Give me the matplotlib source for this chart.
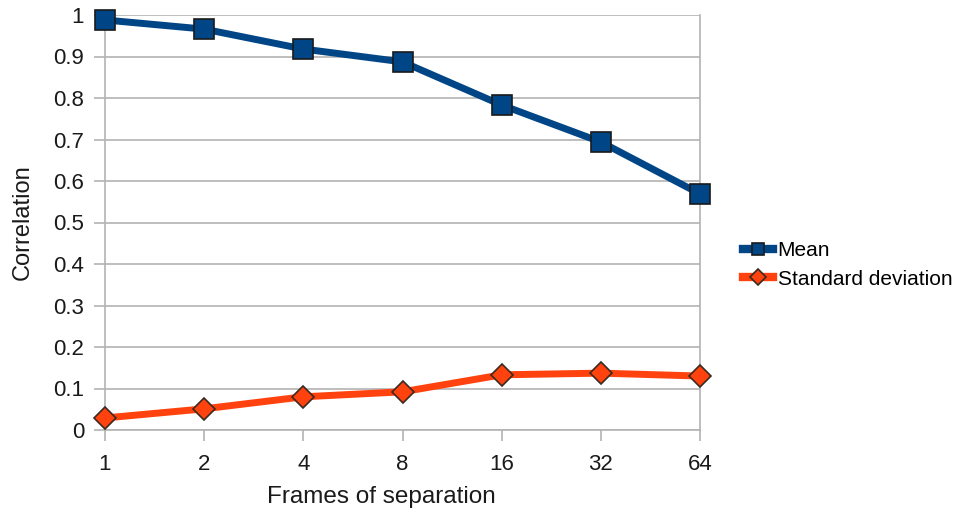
import numpy as np
import matplotlib
matplotlib.use("Agg")
import matplotlib.pyplot as plt

plt.rcParams['font.family'] = ['Liberation Sans', 'DejaVu Sans']

frames = ["1", "2", "4", "8", "16", "32", "64"]
mean_vals = [0.988, 0.966, 0.918, 0.887, 0.783, 0.694, 0.569]
std_vals = [0.029, 0.051, 0.080, 0.092, 0.133, 0.137, 0.130]

fig = plt.figure(figsize=(9.58, 5.16), dpi=100)
ax = fig.add_axes([105/958, 86/516, 595/958, 415/516])

x = np.arange(len(frames))
ax.plot(x, mean_vals, color="#004586", lw=5, marker="s", ms=14,
        mfc="#004586", mec="#1a1a1a", mew=1.2, label="Mean", zorder=4, clip_on=False)
ax.plot(x, std_vals, color="#ff420e", lw=5, marker="D", ms=11,
        mfc="#ff420e", mec="#3a2a20", mew=1.2, label="Standard deviation", zorder=4, clip_on=False)

ax.set_xlim(0, len(frames) - 1)
ax.set_ylim(0, 1)
ax.set_xticks(x)
ax.set_xticklabels(frames)
ax.set_yticks(np.arange(0, 1.01, 0.1))
ax.set_yticklabels(["0", "0.1", "0.2", "0.3", "0.4", "0.5", "0.6", "0.7", "0.8", "0.9", "1"])
ax.yaxis.grid(True, color="#b3b3b3", lw=1.2)
ax.set_axisbelow(True)

for s in ["left", "right", "bottom"]:
    ax.spines[s].set_color("#b3b3b3")
    ax.spines[s].set_linewidth(1.2)
ax.spines["top"].set_visible(False)
ax.tick_params(axis="both", colors="#b3b3b3", width=1.2, length=8, labelsize=16,
               labelcolor="#1a1a1a")
ax.tick_params(axis="x", pad=9)
ax.tick_params(axis="y", pad=7)

ax.set_xlabel("Frames of separation", fontsize=17.5, color="#1a1a1a", labelpad=9)
ax.xaxis.set_label_coords(0.464, -0.135)
ax.set_ylabel("Correlation", fontsize=17, color="#1a1a1a", labelpad=14)

leg = fig.legend(loc="center left", bbox_to_anchor=(735/958, 1 - 265/516), frameon=False,
                 fontsize=15, handlelength=1.4, handletextpad=0.25, labelspacing=0.45,
                 borderaxespad=0)
for h in leg.legend_handles:
    h.set_markersize(8)
    h.set_linewidth(6)

fig.savefig("out.png", dpi=100)
